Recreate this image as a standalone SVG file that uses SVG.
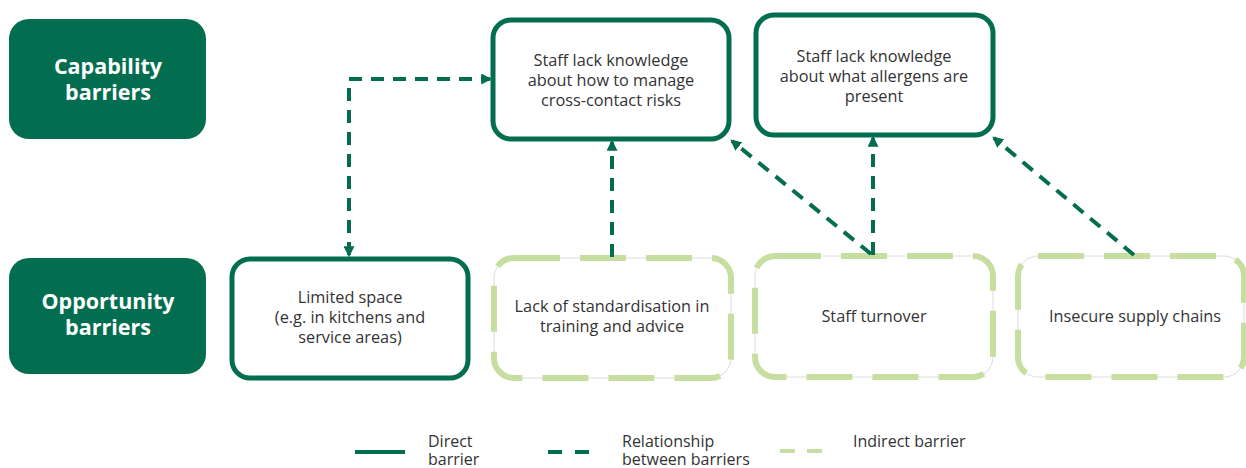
<svg xmlns="http://www.w3.org/2000/svg" width="1246" height="468" viewBox="0 0 1246 468">
<defs>
<marker id="arr" viewBox="0 0 10 10" refX="8" refY="5" markerWidth="11" markerHeight="11" markerUnits="userSpaceOnUse" orient="auto-start-reverse">
<path d="M0,0 L10,5 L0,10 z" fill="#036e4f"/>
</marker>
<style>
.cat{fill:#036e4f;}
.catT{font-family:"Open Sans","Liberation Sans",sans-serif;font-weight:bold;font-size:21.5px;fill:#ffffff;text-anchor:middle;}
.direct{fill:#ffffff;stroke:#036e4f;stroke-width:5;}
.indBase{fill:#ffffff;stroke:#dcdcdc;stroke-width:1;}
.ind{fill:none;stroke:#c6dea0;stroke-width:6;stroke-dasharray:46 20;}
.t{font-family:"Open Sans","Liberation Sans",sans-serif;font-size:16.3px;fill:#333333;text-anchor:middle;}
.lt{font-family:"Open Sans","Liberation Sans",sans-serif;font-size:16px;fill:#333333;}
.rel{fill:none;stroke:#036e4f;stroke-width:4;stroke-dasharray:13 9;}
</style>
</defs>
<g id="capability-barriers">
<rect class="cat" x="9" y="19" width="197" height="120" rx="20"/>
<text class="catT" x="108" y="74">Capability</text>
<text class="catT" x="108" y="100">barriers</text>
</g>
<g id="opportunity-barriers">
<rect class="cat" x="9" y="258" width="197" height="116" rx="20"/>
<text class="catT" x="108" y="309">Opportunity</text>
<text class="catT" x="108" y="335">barriers</text>
</g>
<g id="cross-contact">
<rect class="direct" x="493" y="20" width="236" height="119" rx="18"/>
<text class="t" x="611" y="66">Staff lack knowledge</text>
<text class="t" x="611" y="86">about how to manage</text>
<text class="t" x="611" y="106">cross-contact risks</text>
</g>
<g id="allergens">
<rect class="direct" x="756" y="15" width="237" height="120" rx="18"/>
<text class="t" x="874" y="62">Staff lack knowledge</text>
<text class="t" x="874" y="82">about what allergens are</text>
<text class="t" x="874" y="102">present</text>
</g>
<g id="limited-space">
<rect class="direct" x="232" y="259" width="236" height="119" rx="18"/>
<text class="t" x="350" y="303">Limited space</text>
<text class="t" x="350" y="323">(e.g. in kitchens and</text>
<text class="t" x="350" y="343">service areas)</text>
</g>
<g id="standardisation">
<rect class="indBase" x="494" y="258" width="237" height="120" rx="20"/>
<rect class="ind" x="494" y="258" width="237" height="120" rx="20"/>
<text class="t" x="612" y="312">Lack of standardisation in</text>
<text class="t" x="612" y="332">training and advice</text>
</g>
<g id="staff-turnover">
<rect class="indBase" x="755" y="256" width="238" height="121" rx="20"/>
<rect class="ind" x="755" y="256" width="238" height="121" rx="20"/>
<text class="t" x="874" y="322">Staff turnover</text>
</g>
<g id="supply-chains">
<rect class="indBase" x="1018" y="256" width="226" height="121" rx="20"/>
<rect class="ind" x="1018" y="256" width="226" height="121" rx="20"/>
<text class="t" x="1135" y="322">Insecure supply chains</text>
</g>
<g id="connectors">
<path class="rel" d="M349,255 L349,79 L490,79" marker-start="url(#arr)" marker-end="url(#arr)"/>
<path class="rel" d="M612,257 L612,142" marker-end="url(#arr)"/>
<path class="rel" d="M871,254 L732,141" marker-end="url(#arr)"/>
<path class="rel" d="M873,255 L873,138" marker-end="url(#arr)"/>
<path class="rel" d="M1134,255 L994,138" marker-end="url(#arr)"/>
</g>
<g id="legend">
<line x1="355" y1="452" x2="405" y2="452" stroke="#036e4f" stroke-width="4"/>
<text class="lt" x="428" y="447">Direct</text>
<text class="lt" x="428" y="465">barrier</text>
<line x1="548" y1="452" x2="590" y2="452" stroke="#036e4f" stroke-width="4" stroke-dasharray="14 13"/>
<text class="lt" x="622" y="447">Relationship</text>
<text class="lt" x="622" y="465">between barriers</text>
<line x1="780" y1="451" x2="822" y2="451" stroke="#c6dea0" stroke-width="4" stroke-dasharray="15 12"/>
<text class="lt" x="853" y="447">Indirect barrier</text>
</g>
</svg>
